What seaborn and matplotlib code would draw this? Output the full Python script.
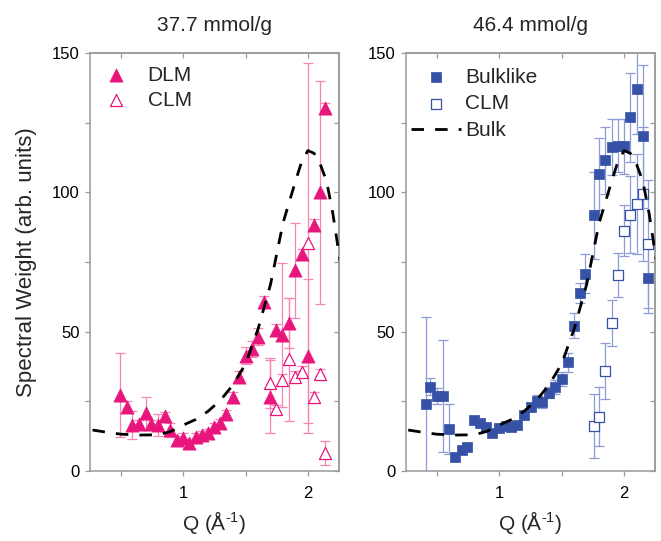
import numpy as np
import pandas as pd
import matplotlib
matplotlib.use("Agg")
import matplotlib.pyplot as plt
import seaborn as sns
from matplotlib.ticker import FuncFormatter

# ---------------- data ----------------
titles = ["37.7 mmol/g", "46.4 mmol/g"]

q_dlm = [0.49, 0.55, 0.59, 0.645, 0.70, 0.74, 0.795, 0.85, 0.89, 0.945, 0.995, 1.045,
         1.10, 1.15, 1.195, 1.245, 1.29, 1.345, 1.395, 1.45, 1.50, 1.55, 1.60, 1.65,
         1.695, 1.745, 1.795, 1.85, 1.90, 1.95, 2.0, 2.05, 2.10, 2.14]
w_dlm = [27.3, 23.1, 16.5, 16.9, 20.7, 16.9, 16.5, 19.8, 14.7, 11.1, 12.0, 9.9,
         12.3, 12.9, 13.5, 15.9, 17.1, 20.5, 26.5, 33.9, 41.4, 43.8, 48.2, 60.8,
         26.7, 50.6, 48.8, 53.0, 72.0, 77.8, 41.3, 88.4, 100.1, 130.2]
e_dlm = [15, 2, 5, 1.5, 6, 1.5, 4, 1.5, 2.5, 1.5, 1.5, 1.5,
         1.5, 1.5, 1.5, 1.5, 1.5, 1.5, 2, 2, 3, 3, 3, 2,
         13.2, 2, 26, 9, 17, 2, 27.5, 2, 40, 2]

q_clm1 = [1.695, 1.745, 1.795, 1.85, 1.90, 1.95, 2.0, 2.05, 2.10, 2.14]
w_clm1 = [31.7, 22.1, 32.7, 40.1, 33.9, 35.7, 81.8, 26.5, 34.7, 6.3]
e_clm1 = [9, 1.5, 2, 22, 2, 2, 64.5, 2, 2, 4.3]

q_bl = [0.41, 0.445, 0.50, 0.545, 0.595, 0.645, 0.70, 0.745, 0.795, 0.845, 0.895, 0.945,
        1.0, 1.05, 1.095, 1.145, 1.195, 1.25, 1.30, 1.345, 1.395, 1.45, 1.50, 1.55,
        1.60, 1.645, 1.685, 1.76, 1.80, 1.85, 1.90, 1.95, 2.0, 2.05, 2.10, 2.15, 2.19]
w_bl = [24.1, 30.3, 26.9, 26.9, 15.1, 5.1, 7.5, 8.7, 18.3, 17.4, 15.9, 13.5,
        15.6, 16.2, 15.9, 16.5, 20.1, 22.9, 25.1, 24.7, 28.1, 30.3, 33.0, 39.0,
        52.1, 63.8, 70.8, 91.7, 106.5, 111.5, 116.2, 116.8, 116.5, 127.0, 137.1, 120.1, 69.2]
e_bl = [31, 3, 3, 20, 9, 1, 1, 1, 1, 1, 1, 1,
        1, 1, 1, 1, 1.5, 1.5, 2, 2, 2, 2.5, 2.5, 3.5,
        4.5, 3.5, 7, 15.5, 13, 12, 10, 9.5, 10, 16, 16, 25.7, 12.6]

q_clm2 = [1.76, 1.80, 1.85, 1.90, 1.95, 2.0, 2.05, 2.10, 2.15, 2.19]
w_clm2 = [16.3, 19.5, 35.9, 53.0, 70.4, 86.3, 92.0, 95.8, 99.5, 81.5]
e_clm2 = [11.5, 10.5, 10.2, 8.2, 8, 9, 13.7, 18, 24, 23]

q_bulk = [0.27, 0.40, 0.50, 0.65, 0.80, 0.90, 1.00, 1.10, 1.20, 1.30, 1.40, 1.50,
          1.60, 1.70, 1.80, 1.90, 1.95, 2.00, 2.05, 2.10, 2.15, 2.20, 2.26]
w_bulk = [14.7, 13.8, 13.2, 12.9, 13.0, 14.2, 16.5, 18.5, 21.5, 25.5, 31.0, 38.5,
          51.0, 67.0, 89.0, 104.0, 111.0, 115.0, 114.0, 110.0, 104.0, 92.5, 75.0]

x_ticks = [0.5, 1.0, 1.5, 2.0]
y_ticks = [0, 25, 50, 75, 100, 125, 150]

# ---------------- style ----------------
sns.set_theme(style="white")
plt.rcParams["font.family"] = ["Liberation Sans", "DejaVu Sans"]
plt.rcParams["mathtext.fontset"] = "custom"
plt.rcParams["mathtext.rm"] = "Liberation Sans"
plt.rcParams["mathtext.it"] = "Liberation Sans:italic"

PINK = "#E8167C"
PINK_ERR = "#F585B2"
BLUE = "#3552A6"
BLUE_ERR = "#8D9BD8"
SPINE = "#9A9A9A"

fig = plt.figure(figsize=(6.61, 5.41), dpi=100)
ax1 = fig.add_axes([0.1362, 0.1294, 0.3767, 0.7726])
ax2 = fig.add_axes([0.6138, 0.1294, 0.3776, 0.7726])

df_dlm = pd.DataFrame({"Q": q_dlm, "W": w_dlm})
df_clm1 = pd.DataFrame({"Q": q_clm1, "W": w_clm1})
df_bl = pd.DataFrame({"Q": q_bl, "W": w_bl})
df_clm2 = pd.DataFrame({"Q": q_clm2, "W": w_clm2})
df_bulk = pd.DataFrame({"Q": q_bulk, "W": w_bulk})

ekw = dict(fmt="none", elinewidth=0.9, capsize=3.5, capthick=0.9, zorder=2)

# left panel
ax1.errorbar(q_dlm, w_dlm, yerr=e_dlm, ecolor=PINK_ERR, **ekw)
ax1.errorbar(q_clm1, w_clm1, yerr=e_clm1, ecolor=PINK_ERR, **ekw)
sns.lineplot(data=df_bulk, x="Q", y="W", ax=ax1, color="black", lw=2.0,
             linestyle=(0, (4.5, 4.0)), sort=False, estimator=None, zorder=4,
             legend=False)
sns.scatterplot(data=df_dlm, x="Q", y="W", ax=ax1, marker="^", s=90, color=PINK,
                edgecolor=PINK, linewidth=0.5, zorder=3, label="DLM")
sns.scatterplot(data=df_clm1, x="Q", y="W", ax=ax1, marker="^", s=75, color="white",
                edgecolor=PINK, linewidth=0.9, zorder=3, label="CLM")

# right panel
ax2.errorbar(q_bl, w_bl, yerr=e_bl, ecolor=BLUE_ERR, **ekw)
ax2.errorbar(q_clm2, w_clm2, yerr=e_clm2, ecolor=BLUE_ERR, **ekw)
sns.scatterplot(data=df_bl, x="Q", y="W", ax=ax2, marker="s", s=55, color=BLUE,
                edgecolor=BLUE, linewidth=0.5, zorder=3, label="Bulklike")
sns.scatterplot(data=df_clm2, x="Q", y="W", ax=ax2, marker="s", s=48, color="white",
                edgecolor=BLUE, linewidth=0.9, zorder=3, label="CLM")
sns.lineplot(data=df_bulk, x="Q", y="W", ax=ax2, color="black", lw=2.0,
             linestyle=(0, (4.5, 4.0)), sort=False, estimator=None, zorder=4,
             label="Bulk")

xfmt = FuncFormatter(lambda v, p: f"{v:.0f}" if abs(v - round(v)) < 1e-6 else "")
yfmt = FuncFormatter(lambda v, p: f"{v:.0f}" if abs(v % 50) < 1e-6 else "")

for ax, title in zip([ax1, ax2], titles):
    ax.set_xlim(0.25, 2.25)
    ax.set_ylim(0, 150)
    ax.set_xticks(x_ticks)
    ax.set_yticks(y_ticks)
    ax.xaxis.set_major_formatter(xfmt)
    ax.yaxis.set_major_formatter(yfmt)
    ax.tick_params(axis="both", direction="out", length=3.5, width=0.9,
                   color=SPINE, labelsize=12, pad=4, labelcolor="black",
                   bottom=True, left=True)
    ax.tick_params(axis="x", pad=7)
    for side in ["left", "bottom", "top", "right"]:
        ax.spines[side].set_visible(True)
        ax.spines[side].set_color(SPINE)
        ax.spines[side].set_linewidth(1.1)
    sx = ax.secondary_xaxis("top")
    sx.set_xticks(x_ticks)
    sx.set_xticklabels([])
    sx.tick_params(direction="in", length=3.5, width=0.9, color=SPINE)
    sx.spines["top"].set_color(SPINE)
    sx.spines["top"].set_linewidth(1.1)
    sy = ax.secondary_yaxis("right")
    sy.set_yticks(y_ticks)
    sy.set_yticklabels([])
    sy.tick_params(direction="in", length=3.5, width=0.9, color=SPINE)
    sy.spines["right"].set_color(SPINE)
    sy.spines["right"].set_linewidth(1.1)
    ax.set_title(title, fontsize=15, pad=16)
    ax.set_xlabel("Q (Å$^{\\mathregular{\u2010}\\mathregular{1}}$)", fontsize=15, labelpad=6)
    ax.set_ylabel("")

ax1.set_ylabel("Spectral Weight (arb. units)", fontsize=16, labelpad=11)

ax1.legend(loc="upper left", bbox_to_anchor=(0.005, 0.97), frameon=False, fontsize=15,
           handlelength=2.4, handletextpad=0.3, labelspacing=0.3, borderaxespad=0.0,
           borderpad=0.0)
ax2.legend(loc="upper left", bbox_to_anchor=(0.02, 0.965), frameon=False, fontsize=15,
           handlelength=2.4, handletextpad=0.2, labelspacing=0.37, borderaxespad=0.0,
           borderpad=0.0)

fig.savefig("out.png", dpi=100)
